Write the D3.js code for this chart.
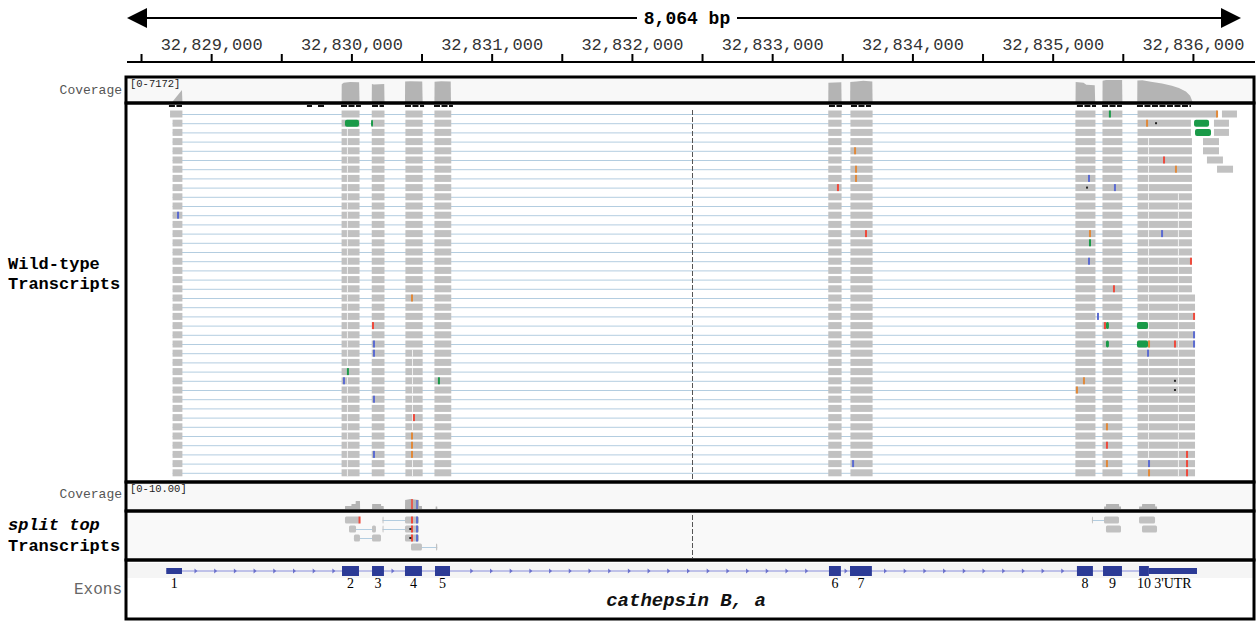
<!DOCTYPE html>
<html>
<head>
<meta charset="utf-8">
<script src="https://cdn.jsdelivr.net/npm/d3@7"></script>
<style>
  body { margin: 0; background: #fff; }
  svg { display: block; }
</style>
</head>
<body>
<div id="chart"></div>
<script>
// visible locus (bp)
const VIEW = [32828400, 32836464];
const CENTER = 32832432;

// ruler ticks
const RULER_MAJOR = [32829000, 32830000, 32831000, 32832000, 32833000, 32834000, 32835000, 32836000];
const RULER_MINOR = [32828500, 32829500, 32830500, 32831500, 32832500, 32833500, 32834500, 32835500];

// gene model: cathepsin B, a
const EXONS = [
  { label: "1", start: 32828680, end: 32828792, thin: true },
  { label: "2", start: 32829933, end: 32830054 },
  { label: "3", start: 32830147, end: 32830232 },
  { label: "4", start: 32830382, end: 32830503 },
  { label: "5", start: 32830596, end: 32830703 },
  { label: "6", start: 32833405, end: 32833490 },
  { label: "7", start: 32833555, end: 32833711 },
  { label: "8", start: 32835173, end: 32835287 },
  { label: "9", start: 32835359, end: 32835494 },
  { label: "10", start: 32835616, end: 32835686 },
  { label: "3'UTR", start: 32835686, end: 32836029, thin: true }
];
const GENE_NAME = "cathepsin B, a";

// coverage, wild-type track  [pos, depth]
const COV1_MAX = 7172;
const COV1 = [
  [[32828725, 0], [32828728, 300], [32828792, 3900], [32828795, 0]],
  [[32829930, 0], [32829931, 5800], [32829945, 6300], [32829990, 6500], [32830055, 6400], [32830058, 0]],
  [[32830145, 0], [32830146, 5900], [32830160, 5700], [32830234, 5900], [32830236, 0]],
  [[32830382, 0], [32830383, 6700], [32830420, 6800], [32830505, 6700], [32830508, 0]],
  [[32830592, 0], [32830593, 6600], [32830640, 6800], [32830708, 6700], [32830710, 0]],
  [[32833400, 0], [32833401, 6300], [32833493, 6400], [32833495, 0]],
  [[32833556, 0], [32833557, 6500], [32833600, 6700], [32833650, 6900], [32833714, 6700], [32833716, 0]],
  [[32835163, 0], [32835164, 6500], [32835220, 6300], [32835240, 5600], [32835300, 5500], [32835303, 0]],
  [[32835355, 0], [32835356, 6900], [32835380, 7172], [32835495, 7172], [32835497, 0]],
  [[32835603, 0], [32835604, 7000], [32835640, 7100], [32835700, 6600], [32835780, 6000], [32835850, 5300],
   [32835900, 4600], [32835950, 3400], [32835980, 2000], [32835995, 300], [32835997, 0]]
];

// downsampled intervals (black dashes under coverage)
const DOWNSAMPLED = [
  [32828699, 32828792], [32829683, 32829719], [32829762, 32829805], [32829926, 32830068],
  [32830147, 32830232], [32830382, 32830518], [32830589, 32830724], [32833405, 32833498],
  [32833562, 32833705], [32835173, 32835309], [32835352, 32835494], [32835601, 32835986]
];

// wild-type spliced reads: exon blocks shared by every row
const READ_BLOCKS = [
  [32828725, 32828795], [32829930, 32830058], [32830145, 32830236], [32830385, 32830508],
  [32830592, 32830712], [32833400, 32833495], [32833558, 32833716], [32835162, 32835305],
  [32835355, 32835497], [32835605, 32836000]
];
const ROW_START = [32828707, 32828725, 32828725, 32828725, 32828725, 32828725, 32828725, 32828725,
  32828725, 32828725, 32828725, 32828725, 32828725, 32828725, 32828725, 32828725, 32828725, 32828725,
  32828725, 32828725, 32828725, 32828725, 32828725, 32828725, 32828725, 32828725, 32828725, 32828725,
  32828725, 32828725, 32828725, 32828725, 32828725, 32828725, 32828725, 32828725, 32828725, 32828725,
  32828725, 32828725];
const ROW_END = [32836172, 32835986, 32835986, 32835993, 32835993, 32835993, 32835993, 32835993,
  32835993, 32835993, 32835993, 32835993, 32835993, 32835993, 32835993, 32835993, 32835993, 32835993,
  32835993, 32835993, 32836015, 32836015, 32836015, 32836015, 32836015, 32836015, 32836015, 32836015,
  32836015, 32836015, 32836015, 32836015, 32836015, 32836015, 32836015, 32836015, 32836015, 32836015,
  32836015, 32836015];
const EXTRA_READS = [
  { row: 0, start: 32836207, end: 32836314 },
  { row: 1, start: 32836150, end: 32836257 },
  { row: 2, start: 32836150, end: 32836257 },
  { row: 3, start: 32836072, end: 32836186 },
  { row: 4, start: 32836072, end: 32836186 },
  { row: 5, start: 32836100, end: 32836214 },
  { row: 6, start: 32836172, end: 32836286 }
];
// read boundaries inside columns (white seams)
const SEAMS = [
  { pos: 32829968, from: 2, to: 39 },
  { pos: 32835680, from: 3, to: 39 },
  { pos: 32835893, from: 9, to: 39 },
  { pos: 32830432, from: 26, to: 39 }
];
// large mismatch runs
const CLIPS = [
  { row: 1, start: 32829954, end: 32830054 },
  { row: 1, start: 32830140, end: 32830154 },
  { row: 1, start: 32836008, end: 32836115 },
  { row: 2, start: 32836015, end: 32836129 },
  { row: 23, start: 32835380, end: 32835401 },
  { row: 23, start: 32835601, end: 32835680 },
  { row: 25, start: 32835380, end: 32835401 },
  { row: 25, start: 32835601, end: 32835680 }
];
// single-base mismatches  [row, pos, base]
const MISMATCHES = [
  [0, 32835408, "A"], [0, 32836172, "G"], [1, 32835673, "G"], [1, 32835737, "D"],
  [4, 32833591, "G"], [5, 32835794, "T"], [6, 32835879, "G"], [6, 32833598, "G"],
  [7, 32833598, "G"], [7, 32835259, "C"], [8, 32833469, "T"], [8, 32835245, "D"],
  [8, 32835444, "C"], [11, 32828764, "C"], [13, 32833669, "T"], [13, 32835266, "G"],
  [13, 32835780, "C"], [14, 32835266, "A"], [16, 32835259, "C"], [16, 32835986, "T"],
  [19, 32835437, "T"], [20, 32830432, "G"], [22, 32835323, "C"], [22, 32836008, "T"],
  [23, 32830154, "T"], [23, 32835373, "T"], [24, 32836008, "C"], [25, 32830161, "C"],
  [25, 32835687, "G"], [25, 32835872, "T"], [25, 32836008, "C"], [26, 32830161, "C"],
  [26, 32835680, "C"], [28, 32829975, "A"], [29, 32829947, "C"], [29, 32830624, "A"],
  [29, 32835223, "G"], [29, 32835872, "D"], [30, 32835173, "G"], [30, 32835872, "D"],
  [31, 32830161, "C"], [33, 32830446, "T"], [34, 32835387, "G"], [35, 32830432, "G"],
  [36, 32830432, "G"], [36, 32835387, "T"], [37, 32830432, "G"], [37, 32830161, "C"],
  [37, 32835958, "T"], [38, 32835387, "G"], [38, 32835958, "T"], [38, 32835687, "C"],
  [38, 32833577, "C"], [39, 32835958, "T"], [39, 32835687, "G"]
];

// coverage, split track
const COV2_MAX = 10;
const COV2 = [
  [[32829954, 0], [32829955, 1.2], [32830000, 1.2], [32830001, 2], [32830030, 2], [32830031, 3.2], [32830061, 3.2], [32830062, 0]],
  [[32830147, 0], [32830148, 2], [32830211, 2], [32830212, 1.2], [32830230, 1.2], [32830231, 0]],
  [[32830382, 0], [32830383, 3.6], [32830420, 4], [32830482, 3.6], [32830483, 1.2], [32830503, 1.2], [32830504, 0]],
  [[32830600, 0], [32830601, 1], [32830612, 1], [32830613, 0]],
  [[32835366, 0], [32835367, 1], [32835380, 1], [32835381, 2], [32835473, 2], [32835474, 1], [32835487, 1], [32835488, 0]],
  [[32835616, 0], [32835617, 1], [32835637, 1], [32835638, 2], [32835730, 2], [32835731, 1], [32835744, 1], [32835745, 0]]
];
const COV2_MISMATCH = [[32830432, 4, "T"], [32830468, 3.6, "C"]];

// split reads: each read is a list of blocks
const SPLIT_READS = [
  { row: 0, blocks: [[32829954, 32830061]] },
  { row: 0, blocks: [[32830222, 32830229], [32830382, 32830482]] },
  { row: 1, blocks: [[32829983, 32830033], [32830147, 32830175]] },
  { row: 1, blocks: [[32830222, 32830229], [32830382, 32830482]] },
  { row: 2, blocks: [[32830018, 32830061], [32830147, 32830211]] },
  { row: 2, blocks: [[32830382, 32830482]] },
  { row: 3, blocks: [[32830425, 32830503], [32830603, 32830612]] },
  { row: 0, blocks: [[32835280, 32835287], [32835366, 32835473]] },
  { row: 0, blocks: [[32835616, 32835730]] },
  { row: 1, blocks: [[32835380, 32835487]] },
  { row: 1, blocks: [[32835637, 32835744]] }
];
const SPLIT_MISMATCHES = [
  [0, 32830058, "T"], [0, 32830432, "T"], [0, 32830468, "C"], [1, 32830432, "T"],
  [1, 32830420, "D"], [1, 32830468, "C"], [2, 32830432, "T"], [2, 32830420, "D"], [2, 32830468, "C"]
];

const BASE_COLOR = { A: "#1a9a48", C: "#5b6bd0", G: "#e0893a", T: "#ee4a3c", D: "#222" };
const READ_GRAY = "#c1c1c1";
const INTRON_BLUE = "#b3cde0";
const EXON_BLUE = "#2c3b96";

const W = 1258, H = 622;
const svg = d3.select("#chart").append("svg")
  .attr("width", W).attr("height", H)
  .style("font-family", "'Liberation Mono', 'DejaVu Sans Mono', monospace");

const x = d3.scaleLinear().domain(VIEW).range([127, 1258]);

// ---------- ruler ----------
const ruler = svg.append("g");
ruler.append("line").attr("x1", 140).attr("x2", 1228).attr("y1", 18).attr("y2", 18)
  .attr("stroke", "#000").attr("stroke-width", 2);
ruler.append("path").attr("d", "M127,18 L147,8 L147,28 Z").attr("fill", "#000");
ruler.append("path").attr("d", "M1241,18 L1221,8 L1221,28 Z").attr("fill", "#000");
const spanText = `${d3.format(",")(VIEW[1] - VIEW[0])} bp`;
ruler.append("rect").attr("x", 637).attr("y", 8).attr("width", 100).attr("height", 20).attr("fill", "#fff");
ruler.append("text").attr("x", 687).attr("y", 24).attr("text-anchor", "middle")
  .style("font-size", "18px").style("font-weight", "bold").text(spanText);

const axis = d3.axisTop(x)
  .tickValues(RULER_MAJOR.concat(RULER_MINOR))
  .tickSize(8).tickPadding(4)
  .tickFormat(d => RULER_MAJOR.includes(d) ? d3.format(",")(d) : "");
const axisG = svg.append("g").attr("transform", "translate(0,62)").call(axis);
axisG.select(".domain").remove();
axisG.selectAll(".tick line").attr("stroke", "#000").attr("stroke-width", 2);
axisG.selectAll(".tick text").attr("fill", "#333")
  .style("font-size", "17px").style("font-family", "'Liberation Mono', monospace");
svg.append("line").attr("x1", 127).attr("x2", 1255).attr("y1", 62).attr("y2", 62)
  .attr("stroke", "#000").attr("stroke-width", 2);

// ---------- panel backgrounds ----------
const PANELS = [
  { y0: 77, y1: 103, fill: "#f8f8f8" },
  { y0: 103, y1: 482, fill: "#fff" },
  { y0: 482, y1: 511, fill: "#f8f8f8" },
  { y0: 511, y1: 560, fill: "#f9f9f9" },
  { y0: 560, y1: 619, fill: "#fff" }
];
svg.append("g").selectAll("rect").data(PANELS).join("rect")
  .attr("x", 126).attr("y", d => d.y0).attr("width", 1128).attr("height", d => d.y1 - d.y0)
  .attr("fill", d => d.fill);
svg.append("rect").attr("x", 127).attr("y", 563).attr("width", 1126).attr("height", 15).attr("fill", "#f5f5f5");

// ---------- coverage 1 ----------
const cov1Y = d3.scaleLinear().domain([0, COV1_MAX]).range([102, 80]);
const area1 = d3.area().x(d => x(d[0])).y0(cov1Y(0)).y1(d => cov1Y(d[1]));
svg.append("g").selectAll("path").data(COV1).join("path")
  .attr("d", area1).attr("fill", "#b4b4b4");
svg.append("text").attr("x", 130).attr("y", 87).style("font-size", "10.5px").attr("fill", "#222")
  .text(`[0-${COV1_MAX}]`);

// downsampled markers
svg.append("g").selectAll("line").data(DOWNSAMPLED).join("line")
  .attr("x1", d => x(d[0])).attr("x2", d => x(d[1])).attr("y1", 106).attr("y2", 106)
  .attr("stroke", "#111").attr("stroke-width", 2).attr("stroke-dasharray", "6,1.5");

// ---------- wild-type reads ----------
const rowY = d3.scaleLinear().domain([0, 1]).range([114, 123.2]);
const BLOCK_H = 7;
const reads = svg.append("g");
const rows = d3.range(ROW_START.length);

reads.selectAll("line.intron").data(rows).join("line").attr("class", "intron")
  .attr("x1", r => x(ROW_START[r])).attr("x2", r => x(ROW_END[r]))
  .attr("y1", r => rowY(r) + 0.5).attr("y2", r => rowY(r) + 0.5)
  .attr("stroke", INTRON_BLUE).attr("stroke-width", 1);

const blockData = [];
rows.forEach(r => {
  READ_BLOCKS.forEach((b, i) => {
    const s = i === 0 ? ROW_START[r] : b[0];
    const e = i === READ_BLOCKS.length - 1 ? ROW_END[r] : b[1];
    blockData.push({ row: r, start: s, end: e });
  });
});
EXTRA_READS.forEach(d => blockData.push(d));
reads.selectAll("rect.blk").data(blockData).join("rect").attr("class", "blk")
  .attr("x", d => x(d.start)).attr("width", d => x(d.end) - x(d.start))
  .attr("y", d => rowY(d.row) - BLOCK_H / 2).attr("height", BLOCK_H)
  .attr("fill", READ_GRAY);

const seamData = [];
SEAMS.forEach(s => d3.range(s.from, s.to + 1).forEach(r => seamData.push({ row: r, pos: s.pos })));
reads.selectAll("rect.seam").data(seamData).join("rect").attr("class", "seam")
  .attr("x", d => x(d.pos)).attr("width", 1)
  .attr("y", d => rowY(d.row) - BLOCK_H / 2).attr("height", BLOCK_H)
  .attr("fill", "#f2f2f2");

reads.selectAll("rect.clip").data(CLIPS).join("rect").attr("class", "clip")
  .attr("x", d => x(d.start)).attr("width", d => x(d.end) - x(d.start))
  .attr("y", d => rowY(d.row) - BLOCK_H / 2).attr("height", BLOCK_H)
  .attr("rx", 2).attr("fill", BASE_COLOR.A);

function drawMismatches(g, data, yFn) {
  g.selectAll("rect.mm").data(data).join("rect").attr("class", "mm")
    .attr("x", d => x(d[1]) - 1)
    .attr("width", 2)
    .attr("y", d => d[2] === "D" ? yFn(d[0]) - 1 : yFn(d[0]) - BLOCK_H / 2)
    .attr("height", d => d[2] === "D" ? 2 : BLOCK_H)
    .attr("fill", d => BASE_COLOR[d[2]]);
}
drawMismatches(reads, MISMATCHES, rowY);

// center line
svg.append("line").attr("x1", x(CENTER)).attr("x2", x(CENTER)).attr("y1", 110).attr("y2", 480)
  .attr("stroke", "#555").attr("stroke-width", 1).attr("stroke-dasharray", "5,2");

// ---------- coverage 2 ----------
const cov2Y = d3.scaleLinear().domain([0, COV2_MAX]).range([509, 484]);
const area2 = d3.area().x(d => x(d[0])).y0(cov2Y(0)).y1(d => cov2Y(d[1]));
svg.append("g").selectAll("path").data(COV2).join("path")
  .attr("d", area2).attr("fill", "#b4b4b4");
svg.append("g").selectAll("rect").data(COV2_MISMATCH).join("rect")
  .attr("x", d => x(d[0]) - 1).attr("width", 2)
  .attr("y", d => cov2Y(d[1])).attr("height", d => cov2Y(0) - cov2Y(d[1]))
  .attr("fill", d => BASE_COLOR[d[2]]).attr("opacity", 0.8);
svg.append("text").attr("x", 130).attr("y", 492).style("font-size", "10.5px").attr("fill", "#222")
  .text(`[0-${COV2_MAX.toFixed(2)}]`);

// ---------- split reads ----------
const splitY = d3.scaleLinear().domain([0, 1]).range([520, 529]);
const split = svg.append("g");
split.selectAll("line").data(SPLIT_READS.filter(d => d.blocks.length > 1)).join("line")
  .attr("x1", d => x(d.blocks[0][0])).attr("x2", d => x(d.blocks[d.blocks.length - 1][1]))
  .attr("y1", d => splitY(d.row) + 0.5).attr("y2", d => splitY(d.row) + 0.5)
  .attr("stroke", INTRON_BLUE).attr("stroke-width", 1);
split.selectAll("rect.sb").data(SPLIT_READS.flatMap(d => d.blocks.map(b => ({ row: d.row, b })))).join("rect")
  .attr("class", "sb")
  .attr("x", d => x(d.b[0])).attr("width", d => Math.max(1, x(d.b[1]) - x(d.b[0])))
  .attr("y", d => splitY(d.row) - BLOCK_H / 2).attr("height", BLOCK_H)
  .attr("rx", 1.5).attr("fill", READ_GRAY);
drawMismatches(split, SPLIT_MISMATCHES, splitY);
svg.append("line").attr("x1", x(CENTER)).attr("x2", x(CENTER)).attr("y1", 515).attr("y2", 558)
  .attr("stroke", "#555").attr("stroke-width", 1).attr("stroke-dasharray", "5,2");

// ---------- exons ----------
const GENE_Y = 571;
const gene = svg.append("g");
const geneStart = EXONS[0].start, geneEnd = EXONS[EXONS.length - 1].end;
gene.append("line").attr("x1", x(geneStart)).attr("x2", x(geneEnd))
  .attr("y1", GENE_Y).attr("y2", GENE_Y).attr("stroke", "#8a8fdc").attr("stroke-width", 1);
// strand arrows on the intron line
const arrows = [];
for (let px = x(geneStart) + 10; px < x(geneEnd); px += 19.7) {
  const inside = EXONS.some(e => px > x(e.start) - 3 && px < x(e.end) + 3);
  if (!inside) arrows.push(px);
}
gene.selectAll("path.arr").data(arrows).join("path").attr("class", "arr")
  .attr("d", px => `M${px - 1.5},${GENE_Y - 2.5} L${px + 1.5},${GENE_Y} L${px - 1.5},${GENE_Y + 2.5} Z`)
  .attr("fill", "#6a70cc");
gene.selectAll("rect.ex").data(EXONS).join("rect").attr("class", "ex")
  .attr("x", d => x(d.start)).attr("width", d => x(d.end) - x(d.start))
  .attr("y", d => d.thin ? GENE_Y - 3 : GENE_Y - 5).attr("height", d => d.thin ? 6 : 10)
  .attr("fill", EXON_BLUE);
gene.selectAll("text.exl").data(EXONS).join("text").attr("class", "exl")
  .attr("x", d => x((d.start + d.end) / 2)).attr("y", 588).attr("text-anchor", "middle")
  .style("font-family", "'Liberation Serif', serif").style("font-size", "14px").attr("fill", "#000")
  .text(d => d.label);
gene.append("text").attr("x", 686).attr("y", 606).attr("text-anchor", "middle")
  .style("font-size", "19px").style("font-weight", "bold").style("font-style", "italic")
  .attr("fill", "#111").text(GENE_NAME);

// ---------- panel borders ----------
svg.append("g").selectAll("rect").data(PANELS).join("rect")
  .attr("x", 126).attr("y", d => d.y0).attr("width", 1128).attr("height", d => d.y1 - d.y0)
  .attr("fill", "none").attr("stroke", "#000").attr("stroke-width", 3);

// ---------- track names ----------
const names = svg.append("g");
names.append("text").attr("x", 122).attr("y", 94).attr("text-anchor", "end")
  .style("font-size", "13px").attr("fill", "#555").text("Coverage");
names.append("text").attr("x", 122).attr("y", 498).attr("text-anchor", "end")
  .style("font-size", "13px").attr("fill", "#555").text("Coverage");
names.append("text").attr("x", 8).attr("y", 269)
  .style("font-size", "17px").style("font-weight", "bold").text("Wild-type");
names.append("text").attr("x", 8).attr("y", 289)
  .style("font-size", "17px").style("font-weight", "bold").text("Transcripts");
names.append("text").attr("x", 8).attr("y", 530)
  .style("font-size", "17px").style("font-weight", "bold").style("font-style", "italic").text("split top");
names.append("text").attr("x", 8).attr("y", 551)
  .style("font-size", "17px").style("font-weight", "bold").text("Transcripts");
names.append("text").attr("x", 122).attr("y", 594).attr("text-anchor", "end")
  .style("font-size", "16px").attr("fill", "#666").text("Exons");
</script>
</body>
</html>
